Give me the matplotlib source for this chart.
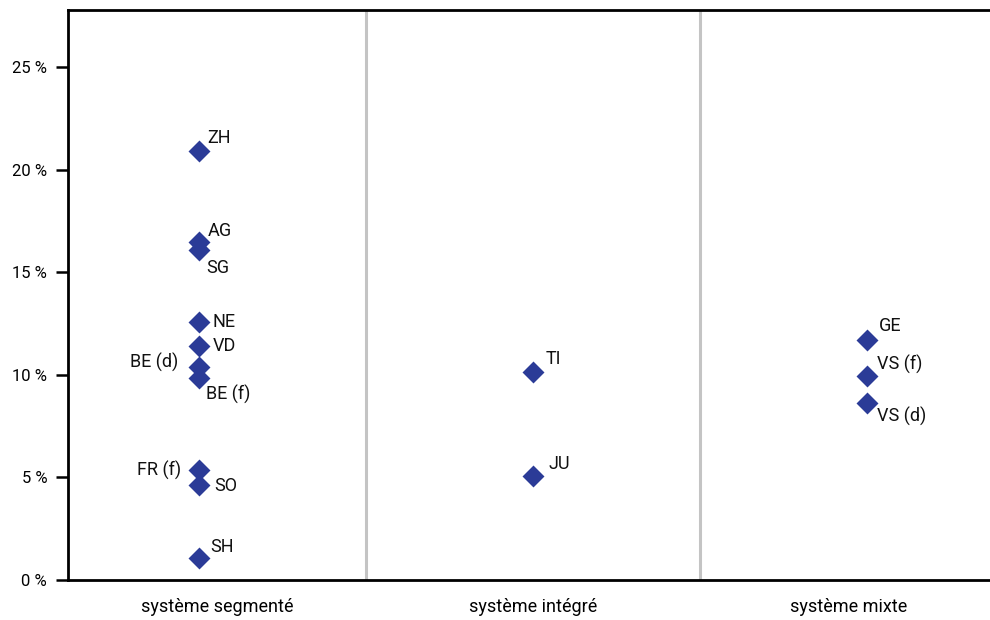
import matplotlib
matplotlib.use("Agg")
import matplotlib.pyplot as plt

categories = ["système segmenté", "système intégré", "système mixte"]
cantons = ["ZH", "AG", "SG", "NE", "VD", "BE (d)", "BE (f)", "FR (f)", "SO", "SH",
           "TI", "JU",
           "GE", "VS (f)", "VS (d)"]
cat_index = [0, 0, 0, 0, 0, 0, 0, 0, 0, 0,
             1, 1,
             2, 2, 2]
values = [20.9, 16.5, 16.1, 12.6, 11.4, 10.4, 9.85, 5.35, 4.65, 1.05,
          10.15, 5.05,
          11.7, 9.95, 8.65]
y_ticks = [0, 5, 10, 15, 20, 25]
y_tick_labels = ["0 %", "5 %", "10 %", "15 %", "20 %", "25 %"]

# label offsets (points) and alignment - styling only
label_offsets = {
    "ZH": (6, 10, "left"), "AG": (6, 8, "left"), "SG": (5, -13, "left"),
    "NE": (10, 0, "left"), "VD": (10, 0, "left"), "BE (d)": (-15, 3, "right"),
    "BE (f)": (5, -12, "left"), "FR (f)": (-13, 0, "right"), "SO": (11, -1, "left"),
    "SH": (8, 8, "left"), "TI": (9, 9, "left"), "JU": (11, 9, "left"),
    "GE": (9, 10, "left"), "VS (f)": (7, 8, "left"), "VS (d)": (7, -10, "left"),
}

plt.rcParams['font.family'] = ['Roboto', 'DejaVu Sans']

fig = plt.figure(figsize=(9.9, 6.2), dpi=100)
ax = fig.add_axes([0.0687, 0.0645, 0.9384, 0.9194])

color = "#2b3b97"
ax.scatter(cat_index, values, marker="D", s=125, color=color, zorder=3, linewidths=0)

for name, ci, v in zip(cantons, cat_index, values):
    dx, dy, ha = label_offsets[name]
    ax.annotate(name, (ci, v), xytext=(dx, dy), textcoords="offset points",
                ha=ha, va="center", fontsize=13, color="#111111")

separators = [0.5, 1.5]
for sep in separators:
    ax.axvline(sep, color="#c4c4c4", lw=2.2, zorder=1)

x_left, x_right = -0.392, 2.39
ax.set_xlim(x_left, x_right)
ax.set_ylim(0, 27.8)
edges = [x_left] + separators + [x_right]
band_centers = [(edges[i] + edges[i + 1]) / 2 for i in range(len(categories))]
ax.set_xticks(band_centers)
ax.set_xticklabels(categories, fontsize=13)
ax.tick_params(axis="x", length=0, pad=13)
ax.set_yticks(y_ticks)
ax.set_yticklabels(y_tick_labels, fontsize=12)
ax.tick_params(axis="y", length=9, width=1.8, pad=6, direction="out")

for s in ["left", "top", "bottom"]:
    ax.spines[s].set_linewidth(2)
    ax.spines[s].set_color("black")
ax.spines["right"].set_visible(False)

fig.savefig("out.png", dpi=100)
